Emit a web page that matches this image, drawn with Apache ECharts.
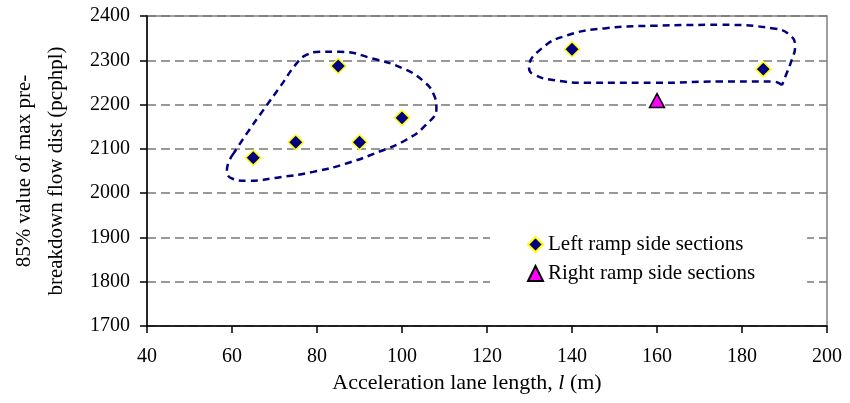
<!DOCTYPE html>
<html>
<head>
<meta charset="utf-8">
<script src="https://cdn.jsdelivr.net/npm/echarts@6/dist/echarts.min.js"></script>
<style>
  html, body { margin: 0; padding: 0; background: #fff; }
  #chart { width: 850px; height: 403px; }
</style>
</head>
<body>
<div id="chart"></div>
<script>
// data
var leftRamp = [[65, 2080], [75, 2115], [85, 2287], [90, 2115], [100, 2170], [140, 2325], [185, 2280]];
var rightRamp = [[160, 2209]];

// hand drawn dashed outlines (in axis units)
var leftOutline = [
  [60.4, 2090], [58.8, 2052], [60, 2033], [63.5, 2028], [71.3, 2036], [79.1, 2048],
  [86.9, 2067], [94.7, 2094], [100.9, 2120], [105.6, 2154], [108.1, 2192], [107.5, 2222],
  [104.8, 2255], [100.1, 2282], [93.1, 2304], [85.3, 2319], [80.6, 2319], [77.5, 2312],
  [75.2, 2293], [71.3, 2240], [67.4, 2188], [63.5, 2135], [60.4, 2090]
];
var rightOutline = [
  [189.4, 2244], [187.4, 2252], [175, 2252], [159.3, 2249], [143.8, 2249], [135.9, 2255],
  [131.2, 2267], [129.9, 2282], [132.9, 2327], [139.1, 2357], [147.6, 2372], [159.3, 2378],
  [175, 2380], [187.4, 2372], [191.7, 2353], [192.5, 2331], [191.7, 2301], [190.2, 2263],
  [189.4, 2244]
];

var serif = "'Liberation Serif', 'Times New Roman', serif";

var chart = echarts.init(document.getElementById("chart"));

function outline(data) {
  return {
    type: "line",
    data: data,
    smooth: true,
    symbol: "none",
    silent: true,
    z: 1,
    lineStyle: { color: "#000080", width: 2.5, type: [7, 5] }
  };
}

chart.setOption({
  animation: false,
  textStyle: { fontFamily: serif, color: "#000" },
  grid: {
    left: 143, right: 23, top: 16, bottom: 77,
    show: true, borderColor: "#808080", borderWidth: 1.5
  },
  xAxis: {
    type: "value",
    min: 40, max: 200, interval: 20,
    axisLine: { show: true, lineStyle: { color: "#000", width: 1.5 } },
    axisTick: { show: true, length: 7, lineStyle: { color: "#000", width: 1.5 } },
    axisLabel: { fontSize: 20, fontFamily: serif, color: "#000", margin: 21 },
    splitLine: { show: false },
    name: "{a|Acceleration lane length, }{i|l}{a| (m)}",
    nameLocation: "middle",
    nameGap: 44,
    nameTextStyle: {
      padding: [0, 40, 0, 0],
      rich: {
        a: { fontSize: 22, fontFamily: serif, color: "#000" },
        i: { fontSize: 22, fontFamily: serif, color: "#000", fontStyle: "italic" }
      }
    }
  },
  yAxis: {
    type: "value",
    min: 1700, max: 2400, interval: 100,
    axisLine: { show: true, lineStyle: { color: "#000", width: 1.5 } },
    axisTick: { show: true, length: 7, lineStyle: { color: "#000", width: 1.5 } },
    axisLabel: {
      fontSize: 20, fontFamily: serif, color: "#000", margin: 17,
      formatter: function (v) { return String(v); }
    },
    splitLine: { show: true, lineStyle: { color: "#777", width: 1.5, type: [9, 5] } },
    name: "85% value of max pre-\nbreakdown flow dist (pcphpl)",
    nameLocation: "middle",
    nameRotate: 90,
    nameGap: 75,
    nameTextStyle: { fontSize: 21, fontFamily: serif, color: "#000", lineHeight: 32 }
  },
  legend: {
    orient: "vertical",
    left: 490,
    top: 228,
    padding: [6, 52, 6, 37],
    backgroundColor: "#fff",
    itemWidth: 15,
    itemHeight: 15,
    itemGap: 8,
    data: ["Left ramp side sections", "Right ramp side sections"],
    textStyle: { fontSize: 21, fontFamily: serif, color: "#000" }
  },
  series: [
    outline(leftOutline),
    outline(rightOutline),
    {
      name: "Left ramp side sections",
      type: "scatter",
      data: leftRamp,
      symbol: "diamond",
      symbolSize: 15,
      z: 3,
      itemStyle: { color: "#000080", borderColor: "#ffff00", borderWidth: 1.5, opacity: 1 }
    },
    {
      name: "Right ramp side sections",
      type: "scatter",
      data: rightRamp,
      symbol: "triangle",
      symbolSize: [15, 14],
      z: 3,
      itemStyle: { color: "#ff00ff", borderColor: "#000", borderWidth: 1.5, opacity: 1 }
    }
  ]
});
</script>
</body>
</html>
